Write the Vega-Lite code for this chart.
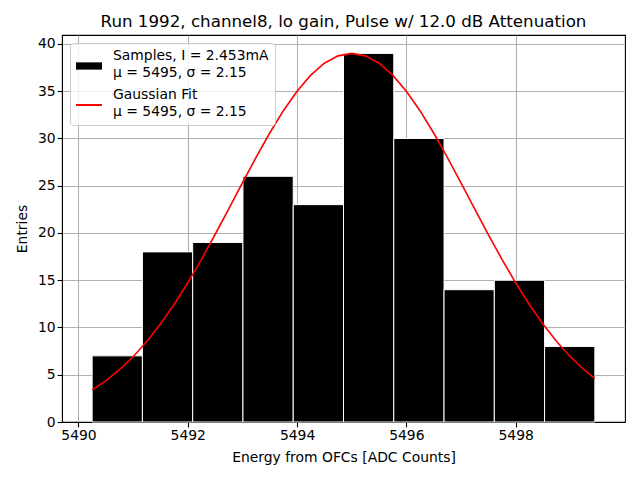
{
  "$schema": "https://vega.github.io/schema/vega-lite/v6.json",
  "width": 563,
  "height": 387,
  "autosize": {"type": "none"},
  "padding": {"left": 62, "top": 35, "right": 15, "bottom": 58},
  "title": {"text": "Run 1992, channel8, lo gain, Pulse w/ 12.0 dB Attenuation", "font": "DejaVu Sans", "fontSize": 16.7, "fontWeight": "normal", "color": "black", "offset": 4},
  "config": {
    "font": "DejaVu Sans",
    "view": {"stroke": "black", "strokeWidth": 1.1},
    "axis": {"gridColor": "#b0b0b0", "gridWidth": 1.1, "gridOpacity": 1, "domainColor": "black", "tickColor": "black", "tickSize": 4.9, "tickWidth": 1.1, "labelFont": "DejaVu Sans", "labelFontSize": 13.9, "labelColor": "black", "titleFont": "DejaVu Sans", "titleFontSize": 13.9, "titleFontWeight": "normal", "titleColor": "black", "zindex": 1},
    "legend": {
      "orient": "top-left", "offset": 8, "zindex": 2,
      "fillColor": "rgba(255,255,255,0.8)", "strokeColor": "#cccccc", "cornerRadius": 3, "padding": 6,
      "labelFont": "DejaVu Sans", "labelFontSize": 13.9, "labelColor": "black", "labelLimit": 300,
      "symbolSize": 676, "rowPadding": 8, "labelOffset": 10
    }
  },
  "datasets": {
    "bins": [
      {"lo": 5490.25, "hi": 5491.17, "count": 7},
      {"lo": 5491.17, "hi": 5492.09, "count": 18},
      {"lo": 5492.09, "hi": 5493.01, "count": 19},
      {"lo": 5493.01, "hi": 5493.93, "count": 26},
      {"lo": 5493.93, "hi": 5494.85, "count": 23},
      {"lo": 5494.85, "hi": 5495.77, "count": 39},
      {"lo": 5495.77, "hi": 5496.69, "count": 30},
      {"lo": 5496.69, "hi": 5497.61, "count": 14},
      {"lo": 5497.61, "hi": 5498.53, "count": 15},
      {"lo": 5498.53, "hi": 5499.45, "count": 8}
    ],
    "fit": [
      {"x": 5490.25, "y": 3.40}, {"x": 5490.5, "y": 4.36}, {"x": 5490.75, "y": 5.53}, {"x": 5491.0, "y": 6.91},
      {"x": 5491.25, "y": 8.52}, {"x": 5491.5, "y": 10.37}, {"x": 5491.75, "y": 12.44}, {"x": 5492.0, "y": 14.73},
      {"x": 5492.25, "y": 17.21}, {"x": 5492.5, "y": 19.84}, {"x": 5492.75, "y": 22.56}, {"x": 5493.0, "y": 25.30},
      {"x": 5493.25, "y": 28.00}, {"x": 5493.5, "y": 30.58}, {"x": 5493.75, "y": 32.94}, {"x": 5494.0, "y": 35.00},
      {"x": 5494.25, "y": 36.70}, {"x": 5494.5, "y": 37.96}, {"x": 5494.75, "y": 38.74}, {"x": 5495.0, "y": 39.00},
      {"x": 5495.25, "y": 38.74}, {"x": 5495.5, "y": 37.96}, {"x": 5495.75, "y": 36.70}, {"x": 5496.0, "y": 35.00},
      {"x": 5496.25, "y": 32.94}, {"x": 5496.5, "y": 30.58}, {"x": 5496.75, "y": 28.00}, {"x": 5497.0, "y": 25.30},
      {"x": 5497.25, "y": 22.56}, {"x": 5497.5, "y": 19.84}, {"x": 5497.75, "y": 17.21}, {"x": 5498.0, "y": 14.73},
      {"x": 5498.25, "y": 12.44}, {"x": 5498.5, "y": 10.37}, {"x": 5498.75, "y": 8.52}, {"x": 5499.0, "y": 6.91},
      {"x": 5499.25, "y": 5.53}, {"x": 5499.45, "y": 4.58}
    ]
  },
  "encoding": {
    "x": {"type": "quantitative", "scale": {"domain": [5489.79, 5499.91], "nice": false, "zero": false},
          "axis": {"title": "Energy from OFCs [ADC Counts]", "values": [5490, 5492, 5494, 5496, 5498], "format": "d", "labelPadding": 2, "titlePadding": 8}},
    "y": {"type": "quantitative", "scale": {"domain": [0, 40.95], "nice": false},
          "axis": {"title": "Entries", "values": [0, 5, 10, 15, 20, 25, 30, 35, 40], "labelPadding": 2, "titlePadding": 8}}
  },
  "layer": [
    {
      "data": {"name": "bins"},
      "mark": {"type": "bar", "stroke": "white", "strokeWidth": 1, "orient": "vertical"},
      "encoding": {
        "x": {"field": "lo", "type": "quantitative"},
        "x2": {"field": "hi"},
        "y": {"field": "count", "type": "quantitative"},
        "y2": {"datum": 0},
        "color": {"datum": "S", "type": "nominal",
          "scale": {"domain": ["S", "G"], "range": ["black", "red"]},
          "legend": {
            "title": null,
            "labelExpr": "datum.value == 'S' ? ['Samples, I = 2.453mA', 'μ = 5495, σ = 2.15'] : ['Gaussian Fit', 'μ = 5495, σ = 2.15']",
            "encode": {
              "symbols": {"update": {
                "shape": {"signal": "datum.value == 'S' ? 'M-1,-0.28H1V0.28H-1Z' : 'M-1,0H1'"},
                "fill": {"signal": "datum.value == 'S' ? 'black' : 'transparent'"},
                "stroke": {"signal": "datum.value == 'S' ? 'black' : 'red'"},
                "strokeWidth": {"signal": "datum.value == 'S' ? 0 : 2"},
                "opacity": {"value": 1},
                "x": {"value": 13},
                "y": {"value": 17}
              }},
              "labels": {"update": {"lineHeight": {"value": 16.5}, "y": {"value": 7}, "x": {"value": 37}}}
            }
          }}
      }
    },
    {
      "data": {"name": "fit"},
      "mark": {"type": "line", "strokeWidth": 1.6},
      "encoding": {
        "x": {"field": "x", "type": "quantitative"},
        "y": {"field": "y", "type": "quantitative"},
        "color": {"datum": "G", "type": "nominal",
          "legend": {
            "title": null,
            "labelExpr": "datum.value == 'S' ? ['Samples, I = 2.453mA', 'μ = 5495, σ = 2.15'] : ['Gaussian Fit', 'μ = 5495, σ = 2.15']",
            "encode": {
              "symbols": {"update": {
                "shape": {"signal": "datum.value == 'S' ? 'M-1,-0.28H1V0.28H-1Z' : 'M-1,0H1'"},
                "fill": {"signal": "datum.value == 'S' ? 'black' : 'transparent'"},
                "stroke": {"signal": "datum.value == 'S' ? 'black' : 'red'"},
                "strokeWidth": {"signal": "datum.value == 'S' ? 0 : 2"},
                "opacity": {"value": 1},
                "x": {"value": 13},
                "y": {"value": 17}
              }},
              "labels": {"update": {"lineHeight": {"value": 16.5}, "y": {"value": 7}, "x": {"value": 37}}}
            }
          }}
      }
    }
  ]
}
